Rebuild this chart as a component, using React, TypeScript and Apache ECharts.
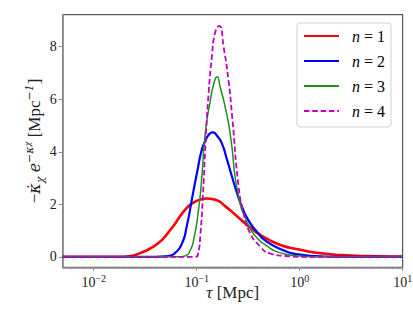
import React, { useEffect, useRef } from 'react';
import * as echarts from 'echarts';

const W = 413;
const H = 309;

// axis ranges
const X_MIN = 0.005;
const X_MAX = 10;
const Y_MIN = -0.4;
const Y_MAX = 9.22;

// tick values
const yTicks = [0, 2, 4, 6, 8];
const xMajorExponents = [-2, -1, 0, 1];
const xMinorDecades = [-3, -2, -1, 0];
const xMinorMultipliers = [2, 3, 4, 5, 6, 7, 8, 9];

// legend labels
const nLabels = ['1', '2', '3', '4'];

// n = 1 (red)
const tau1 = [0.005, 0.018, 0.0226, 0.0261, 0.0304, 0.0355, 0.0442, 0.0494, 0.0553, 0.0618, 0.0692, 0.0774, 0.0865, 0.0968, 0.1084, 0.1239, 0.1517, 0.1897, 0.2371, 0.2972, 0.3715, 0.4645, 0.65, 1.016, 1.59, 3.12, 5.6, 10];
const g1 = [0, 0, 0.03, 0.09, 0.19, 0.32, 0.58, 0.78, 1.02, 1.27, 1.55, 1.8, 1.98, 2.1, 2.18, 2.22, 2.17, 1.92, 1.6, 1.26, 0.96, 0.72, 0.45, 0.27, 0.14, 0.05, 0.02, 0.01];

// n = 2 (blue)
const tau2 = [0.005, 0.0398, 0.0531, 0.0618, 0.0719, 0.0804, 0.0899, 0.1007, 0.1125, 0.1211, 0.1309, 0.1432, 0.1580, 0.1762, 0.1968, 0.2203, 0.2466, 0.2754, 0.3192, 0.3855, 0.4645, 0.65, 1.016, 1.59, 3.16, 10];
const g2 = [0, 0, 0.03, 0.15, 0.5, 1.2, 2.2, 3.2, 4.1, 4.4, 4.65, 4.74, 4.6, 4.3, 3.7, 3.05, 2.42, 1.9, 1.38, 0.95, 0.62, 0.3, 0.08, 0.02, 0, 0];

// n = 3 (green)
const tau3 = [0.005, 0.0693, 0.0791, 0.0865, 0.0931, 0.1042, 0.1125, 0.1211, 0.1355, 0.1459, 0.1574, 0.1694, 0.1928, 0.2118, 0.2553, 0.3192, 0.3793, 0.4645, 0.65, 1.016, 1.59, 10];
const g3 = [0, 0, 0.05, 0.25, 0.62, 1.8, 3.1, 4.7, 5.95, 6.55, 6.86, 6.45, 5.55, 4.65, 2.3, 1.2, 0.75, 0.45, 0.15, 0.03, 0, 0];

// n = 4 (magenta, dashed)
const tau4 = [0.005, 0.0968, 0.1035, 0.1084, 0.1159, 0.1225, 0.1309, 0.1403, 0.15, 0.1656, 0.1824, 0.2042, 0.2203, 0.2553, 0.2838, 0.3192, 0.415, 0.52, 0.726, 1.0, 10];
const g4 = [0, 0, 0.15, 0.8, 2.6, 4.5, 6.3, 7.6, 8.5, 8.79, 8.0, 6.67, 5.4, 2.67, 1.7, 1.02, 0.38, 0.12, 0.03, 0, 0];

const SERIF = "'Liberation Serif', 'DejaVu Serif', serif";
const MATH = "'DejaVu Serif', serif";
const TXT = '#222';
const SPINE = '#8c8c8c';

export default function App() {
  const ref = useRef<HTMLDivElement>(null);

  useEffect(() => {
    if (!ref.current) return;
    const chart = echarts.init(ref.current, null, { renderer: 'svg', width: W, height: H });
    const lg = (v: number) => Math.log10(v);
    const xmin = lg(X_MIN);
    const xmax = lg(X_MAX);
    const minor: number[] = [];
    xMinorDecades.forEach((d) => {
      xMinorMultipliers.forEach((m) => {
        const v = lg(m * Math.pow(10, d));
        if (v > xmin + 1e-6 && v < xmax - 1e-6) minor.push(v);
      });
    });
    const toPts = (t: number[], g: number[]) => t.map((v, i) => [lg(v), g[i]]);
    const sup = (n: number) => {
      const r = Math.round(n);
      return r < 0 ? '\u2212' + Math.abs(r) : String(r);
    };

    const defs = [
      { t: tau1, g: g1, color: '#ff0000', width: 2.6, type: 'solid' as any },
      { t: tau2, g: g2, color: '#0000ff', width: 2.2, type: 'solid' as any },
      { t: tau3, g: g3, color: '#1f8f1f', width: 1.5, type: 'solid' as any },
      { t: tau4, g: g4, color: '#bf00bf', width: 1.8, type: [5.5, 2.8] as any },
    ];

    const series = defs.map((d, i) => ({
      name: 'n = ' + nLabels[i],
      type: 'line',
      data: toPts(d.t, d.g),
      showSymbol: false,
      symbol: 'none',
      smooth: 0.6,
      lineStyle: { color: d.color, width: d.width, type: d.type },
      itemStyle: { color: d.color },
      z: 3 + i,
    }));

    const option: any = {
      animation: false,
      grid: {
        left: 62.7,
        right: 10.3,
        top: 14.7,
        bottom: 41.7,
        containLabel: false,
        outerBoundsMode: 'none',
        show: true,
        borderColor: '#333',
        borderWidth: 1,
        backgroundColor: 'transparent',
      },
      legend: {
        orient: 'vertical',
        left: 297,
        top: 23,
        itemWidth: 35,
        itemHeight: 14,
        itemGap: 9,
        padding: [5, 6, 8, 6],
        borderColor: '#d0d0d0',
        borderWidth: 1,
        borderRadius: 3,
        backgroundColor: 'rgba(255,255,255,0.85)',
        itemStyle: { opacity: 0 },
        data: series.map((s) => s.name),
        formatter: (name: string) => `{i|n}{t| = ${name.slice(4)}}`,
        textStyle: {
          color: '#000',
          fontFamily: SERIF,
          padding: [0, 0, 0, 8],
          rich: {
            i: { fontFamily: SERIF, fontStyle: 'italic', fontSize: 16, color: '#000' },
            t: { fontFamily: SERIF, fontSize: 16, color: '#000' },
          },
        },
      },
      xAxis: [
        {
          type: 'value',
          min: xmin,
          max: xmax,
          position: 'bottom',
          axisLine: { show: true, onZero: false, lineStyle: { color: SPINE, width: 1.6 } },
          axisTick: { show: true, length: 3.5, customValues: xMajorExponents, lineStyle: { color: SPINE, width: 1 } },
          axisLabel: {
            customValues: xMajorExponents,
            margin: 6,
            fontFamily: SERIF,
            formatter: (v: number) => `{b|10}{s|${sup(v)}}`,
            rich: {
              b: { fontFamily: SERIF, fontSize: 14, color: TXT, lineHeight: 18 },
              s: { fontFamily: SERIF, fontSize: 10, color: TXT, lineHeight: 10, verticalAlign: 'top' },
            },
          },
          splitLine: { show: false },
          name: '{i|\u03c4}{t| [Mpc]}',
          nameLocation: 'middle',
          nameGap: 17,
          nameMoveOverlap: false,
          nameTextStyle: {
            fontFamily: SERIF,
            rich: {
              i: { fontFamily: SERIF, fontStyle: 'italic', fontSize: 17, color: TXT },
              t: { fontFamily: SERIF, fontSize: 17, color: TXT },
            },
          },
        },
        {
          type: 'value',
          min: xmin,
          max: xmax,
          position: 'bottom',
          axisLine: { show: false, onZero: false },
          axisTick: { show: true, length: 2, customValues: minor, lineStyle: { color: SPINE, width: 0.8 } },
          axisLabel: { show: false },
          splitLine: { show: false },
        },
      ],
      yAxis: {
        type: 'value',
        min: Y_MIN,
        max: Y_MAX,
        axisLine: { show: true, onZero: false, lineStyle: { color: SPINE, width: 1.6 } },
        axisTick: { show: true, length: 4, customValues: yTicks, lineStyle: { color: SPINE, width: 1 } },
        axisLabel: { customValues: yTicks, margin: 6, fontFamily: SERIF, fontSize: 14, color: TXT },
        splitLine: { show: false },
        name:
          '{t|\u2212}{k|\u03ba\u0307}{s|\u03c7}{t| }{k|e}{u|\u2212\u03ba}{us|\u03c7}{t| [Mpc}{u|\u22121}{t|]}',
        nameLocation: 'middle',
        nameRotate: 90,
        nameGap: 17,
        nameMoveOverlap: false,
        nameTextStyle: {
          fontFamily: SERIF,
          rich: {
            t: { fontFamily: SERIF, fontSize: 17, color: TXT, lineHeight: 22, verticalAlign: 'middle' },
            k: { fontFamily: MATH, fontStyle: 'italic', fontSize: 16, color: TXT, lineHeight: 22 },
            s: { fontFamily: MATH, fontStyle: 'italic', fontSize: 11, color: TXT, lineHeight: 12, verticalAlign: 'bottom' },
            u: { fontFamily: MATH, fontStyle: 'italic', fontSize: 11, color: TXT, lineHeight: 12, verticalAlign: 'top' },
            us: { fontFamily: MATH, fontStyle: 'italic', fontSize: 8, color: TXT, lineHeight: 16, verticalAlign: 'top' },
          },
        },
      },
      series,
    };

    chart.setOption(option);
    return () => chart.dispose();
  }, []);

  return (
    <div
      ref={ref}
      style={{ position: 'absolute', left: 0, top: 0, width: W, height: H, background: '#fff' }}
    />
  );
}
